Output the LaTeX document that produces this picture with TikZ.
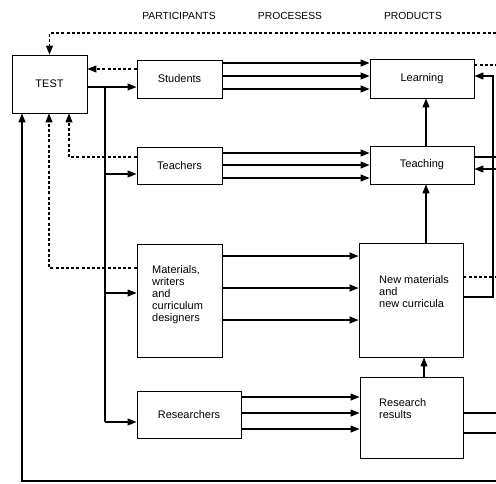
\documentclass[tikz,border=0pt]{standalone}
\usepackage{fontspec}
\setmainfont{Liberation Sans}
\usetikzlibrary{arrows.meta}
\begin{document}
\begin{tikzpicture}[x=1pt,y=-1pt,
  box/.style={draw,line width=0.9pt,inner sep=0pt,font=\fontsize{11}{12}\selectfont},
  txt/.style={inner sep=0pt,font=\fontsize{11}{12}\selectfont,align=left,anchor=west},
  hdr/.style={inner sep=0pt,font=\fontsize{10.3}{12}\selectfont},
  ln/.style={line width=1.2pt},
  arr/.style={line width=1.2pt,-{Triangle[length=9pt,width=7pt]}},
  darr/.style={line width=1.2pt,dash pattern=on 3pt off 2.2pt,-{Triangle[length=9pt,width=7pt]}},
  dln/.style={line width=1.2pt,dash pattern=on 3pt off 2.2pt}]
\useasboundingbox (0,0) rectangle (496,483);
\fill[white] (0,0) rectangle (496,483);
% headers
\node[hdr] (h1) at (179,16) {PARTICIPANTS};
\node[hdr] (h2) at (290,16) {PROCESESS};
\node[hdr] (h3) at (413,16) {PRODUCTS};
% boxes
\node[box,minimum width=75pt,minimum height=58pt] (test) at (49.5,84) {TEST};
\node[box,minimum width=85pt,minimum height=38pt] (students) at (179.5,79) {Students};
\node[box,minimum width=85pt,minimum height=37pt] (teachers) at (179.5,165.5) {Teachers};
\node[box,minimum width=85pt,minimum height=113pt] (materials) at (179.5,300.5) {};
\node[txt] (materialstxt) at (152,295) {Materials,\\writers\\and\\curriculum\\designers};
\node[box,minimum width=104pt,minimum height=47pt] (researchers) at (189,414.5) {Researchers};
\node[box,minimum width=104pt,minimum height=39pt] (learning) at (422,78.5) {Learning};
\node[box,minimum width=104pt,minimum height=38pt] (teaching) at (422,165) {Teaching};
\node[box,minimum width=104pt,minimum height=114pt] (newmat) at (411,300) {};
\node[txt] (newmattxt) at (379,292) {New materials\\and\\new curricula};
\node[box,minimum width=103pt,minimum height=81pt] (results) at (411.5,417.5) {};
\node[txt] (resultstxt) at (379,409) {Research\\results};
% free ends and junctions
\coordinate (topR) at (496,33);
\coordinate (lrnR) at (496,65);
\coordinate (tchR1) at (496,157);
\coordinate (tchR2) at (496,169);
\coordinate (nmR) at (496,277);
\coordinate (rrR1) at (496,413);
\coordinate (rrR2) at (496,433);
\coordinate (botR) at (496,481);
\coordinate (bus) at (105,87);
\coordinate (fb) at (493,297);
% dashed feedback to TEST
\draw[darr] (topR) -| (test.north);
\draw[darr] (students.west |- 0,69) -- (test.east |- 0,69);
\draw[darr] (teachers.west |- 0,157) -| (test.south -| 69,0);
\draw[darr] (materials.west |- 0,268) -| (test.south -| 49,0);
\draw[arr] (botR) -| (test.south -| 22,0);
% TEST to participants
\draw[arr] (test.east |- bus) -- (students.west |- bus);
\draw[ln] (bus) -- (105,422);
\draw[arr] (105,174) -- (teachers.west |- 0,174);
\draw[arr] (105,293) -- (materials.west |- 0,293);
\draw[arr] (105,422) -- (researchers.west |- 0,422);
% processes
\foreach \yy in {63,76,89} \draw[arr] (students.east |- 0,\yy) -- (learning.west |- 0,\yy);
\foreach \yy in {153,165,178} \draw[arr] (teachers.east |- 0,\yy) -- (teaching.west |- 0,\yy);
\foreach \yy in {256,288,320} \draw[arr] (materials.east |- 0,\yy) -- (newmat.west |- 0,\yy);
\foreach \yy in {397,413,429} \draw[arr] (researchers.east |- 0,\yy) -- (results.west |- 0,\yy);
% products
\draw[arr] (teaching.north -| 426,0) -- (learning.south -| 426,0);
\draw[arr] (newmat.north -| 426,0) -- (teaching.south -| 426,0);
\draw[arr] (results.north -| 424,0) -- (newmat.south -| 424,0);
\draw[arr] (newmat.east |- fb) -- (fb) -- (493,76) -- (learning.east |- 0,76);
\draw[dln] (learning.east |- lrnR) -- (lrnR);
\draw[ln] (teaching.east |- tchR1) -- (tchR1);
\draw[arr] (tchR2) -- (teaching.east |- tchR2);
\draw[dln] (newmat.east |- nmR) -- (nmR);
\draw[ln] (results.east |- rrR1) -- (rrR1);
\draw[ln] (results.east |- rrR2) -- (rrR2);
\end{tikzpicture}
\end{document}
